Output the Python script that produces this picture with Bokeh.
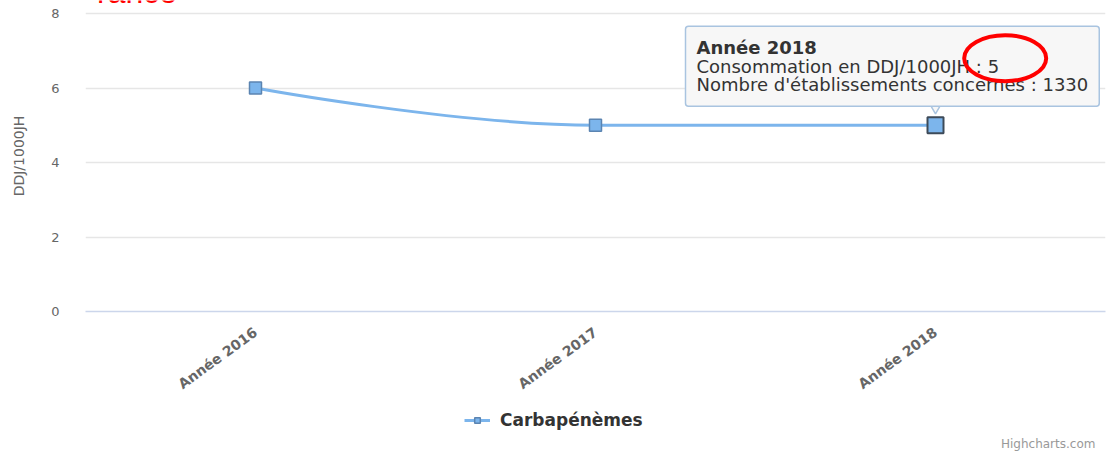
import math
from bokeh.plotting import figure
from bokeh.layouts import column
from bokeh.models import FixedTicker, Label, Legend, LegendItem, Range1d
from bokeh.embed import file_html
from bokeh.resources import INLINE

# ---- data ----
categories = ["Année 2016", "Année 2017", "Année 2018"]
consommation = [6, 5, 5]
etablissements = 1330
series_name = "Carbapénèmes"
y_ticks = [0, 2, 4, 6, 8]
y_title = "DDJ/1000JH"
tooltip_index = 2
credit = "Highcharts.com"
region = "France"

FONT = "DejaVu Sans"
SERIES = "#7cb5ec"
W = 1116
PLOT_H = 298      # height of the 0..8 band
TOP_PAD = 13      # white strip above the 8 gridline (holds the foot of the heading)

xs = list(range(len(categories)))


def spline(xv, yv, smoothing=1.5):
    """Highcharts-like spline control points derived from the data."""
    denom = smoothing + 1
    n = len(xv)
    left = [(xv[i], yv[i]) for i in range(n)]
    right = [(xv[i], yv[i]) for i in range(n)]
    for i in range(1, n - 1):
        lx, ly = xv[i - 1], yv[i - 1]
        nx, ny = xv[i + 1], yv[i + 1]
        px, py = xv[i], yv[i]
        lcx = (smoothing * px + lx) / denom
        lcy = (smoothing * py + ly) / denom
        rcx = (smoothing * px + nx) / denom
        rcy = (smoothing * py + ny) / denom
        if rcx != lcx:
            corr = ((rcy - lcy) * (rcx - px)) / (rcx - lcx) + py - rcy
            lcy += corr
            rcy += corr
        if lcy > ly and lcy > py:
            lcy = max(ly, py); rcy = 2 * py - lcy
        elif lcy < ly and lcy < py:
            lcy = min(ly, py); rcy = 2 * py - lcy
        if rcy > ny and rcy > py:
            rcy = max(ny, py); lcy = 2 * py - rcy
        elif rcy < ny and rcy < py:
            rcy = min(ny, py); lcy = 2 * py - rcy
        left[i] = (lcx, lcy)
        right[i] = (rcx, rcy)
    return dict(
        x0=xv[:-1], y0=yv[:-1], x1=xv[1:], y1=yv[1:],
        cx0=[right[i][0] for i in range(n - 1)], cy0=[right[i][1] for i in range(n - 1)],
        cx1=[left[i + 1][0] for i in range(n - 1)], cy1=[left[i + 1][1] for i in range(n - 1)],
    )


# ---------------- main chart ----------------
y_max = max(y_ticks)
p = figure(frame_width=1020, frame_height=PLOT_H + TOP_PAD, output_backend="svg",
           toolbar_location=None,
           x_range=Range1d(-0.5, len(categories) - 0.5),
           y_range=Range1d(min(y_ticks), y_max * (PLOT_H + TOP_PAD) / PLOT_H),
           min_border_left=85, min_border_right=11, min_border_top=0, min_border_bottom=100,
           background_fill_color="white", border_fill_color="white",
           outline_line_color=None)

p.xgrid.grid_line_color = None
p.ygrid.grid_line_color = "#e6e6e6"
p.ygrid.grid_line_width = 1.5

p.yaxis.ticker = FixedTicker(ticks=y_ticks)
p.yaxis.axis_line_color = None
p.yaxis.major_tick_line_color = None
p.yaxis.minor_tick_line_color = None
p.yaxis.major_label_text_font = FONT
p.yaxis.major_label_text_font_size = "13px"
p.yaxis.major_label_text_color = "#666666"
p.yaxis.major_label_standoff = 20
p.yaxis.axis_label = y_title
p.yaxis.axis_label_text_font = FONT
p.yaxis.axis_label_text_font_style = "normal"
p.yaxis.axis_label_text_font_size = "14px"
p.yaxis.axis_label_text_color = "#666666"
p.yaxis.axis_label_standoff = 21

p.xaxis.ticker = FixedTicker(ticks=xs)
p.xaxis.major_label_overrides = {i: c for i, c in zip(xs, categories)}
p.xaxis.major_label_orientation = math.radians(36)
p.xaxis.major_label_text_font = FONT
p.xaxis.major_label_text_font_style = "bold"
p.xaxis.major_label_text_font_size = "14px"
p.xaxis.major_label_text_color = "#666666"
p.xaxis.major_label_standoff = 13
p.xaxis.axis_line_color = "#ccd6eb"
p.xaxis.axis_line_width = 1.5
p.xaxis.major_tick_line_color = None
p.xaxis.minor_tick_line_color = None

# foot of the red heading, cut by the top edge as in the screenshot
p.add_layout(Label(x=p.x_range.start, y=p.y_range.end, x_offset=-8, y_offset=9,
                   text=region, text_font="Liberation Sans", text_font_size="32px",
                   text_color="#ff0000", text_align="left", text_baseline="alphabetic"))

seg = spline(xs, consommation)
p.bezier(x0="x0", y0="y0", x1="x1", y1="y1", cx0="cx0", cy0="cy0",
         cx1="cx1", cy1="cy1", source=seg, line_color=SERIES, line_width=3)
p.scatter(xs, consommation, marker="square", size=12, fill_color=SERIES,
          line_color="#5b84b1", line_width=1.5)

ti = tooltip_index
p.scatter([xs[ti]], [consommation[ti]], marker="square", size=16,
          fill_color=SERIES, line_color="#3d4a58", line_width=2)

# tooltip pointer (its upper half is covered by the tooltip box)
p.scatter([xs[ti]], [consommation[ti] + 0.54], marker="inverted_triangle", size=15,
          fill_color="#f7f7f7", line_color="#a9c4e0", line_width=1.5)

# tooltip
TIP_PAD = 11
TIP_LH = 0.88
tip = Label(x=xs[ti], y=consommation[ti], x_offset=-250, y_offset=19,
            text="\u00a0\nConsommation en DDJ/1000JH : %s\nNombre d'établissements concernes : %d"
            % (consommation[ti], etablissements),
            text_font=FONT, text_font_size="18px", text_color="#333333",
            text_align="left", text_baseline="bottom", text_line_height=TIP_LH,
            background_fill_color="#f7f7f7", background_fill_alpha=1.0,
            border_line_color="#a9c4e0", border_line_width=1.5, border_radius=3,
            padding=TIP_PAD)
p.add_layout(tip)
p.add_layout(Label(x=xs[ti], y=consommation[ti], x_offset=-250 + TIP_PAD,
                   y_offset=19 + TIP_PAD + 37,
                   text=categories[ti], text_font=FONT, text_font_style="bold",
                   text_font_size="18px", text_color="#333333", text_line_height=TIP_LH,
                   text_align="left", text_baseline="bottom"))

# red ellipse annotation around the value
p.ellipse(x=[xs[ti] + 0.205], y=[consommation[ti] + 1.8], width=82, height=46,
          width_units="screen", height_units="screen", fill_color=None,
          line_color="red", line_width=4, level="overlay")

# ---------------- legend strip ----------------
p2 = figure(width=W, height=40, output_backend="svg", toolbar_location=None,
            x_range=Range1d(0, W), y_range=Range1d(100, 140),
            x_axis_type=None, y_axis_type=None,
            min_border_left=0, min_border_right=0, min_border_top=0, min_border_bottom=0,
            background_fill_color="white", border_fill_color="white",
            outline_line_color=None)
# series glyphs for the legend (outside the visible strip range)
lg_line = p2.line(xs, consommation, line_color=SERIES, line_width=3)
lg_pts = p2.scatter(xs, consommation, marker="square", size=12, fill_color=SERIES,
                    line_color="#5b84b1", line_width=1.5)
legend = Legend(items=[LegendItem(label=series_name, renderers=[lg_line, lg_pts])],
                location=(379, 21), orientation="horizontal",
                border_line_color=None, background_fill_alpha=0,
                label_text_font=FONT, label_text_font_style="bold",
                label_text_font_size="17px", label_text_color="#333333",
                glyph_width=26, glyph_height=14, label_standoff=10,
                padding=4, margin=0)
p2.add_layout(legend)
p2.add_layout(Label(x=1105, y=108, text=credit, text_font=FONT, text_font_size="12px",
                    text_color="#999999", text_align="right", text_baseline="middle"))

layout = column(p, p2, spacing=0)
open("out.html", "w").write(file_html(layout, INLINE))
